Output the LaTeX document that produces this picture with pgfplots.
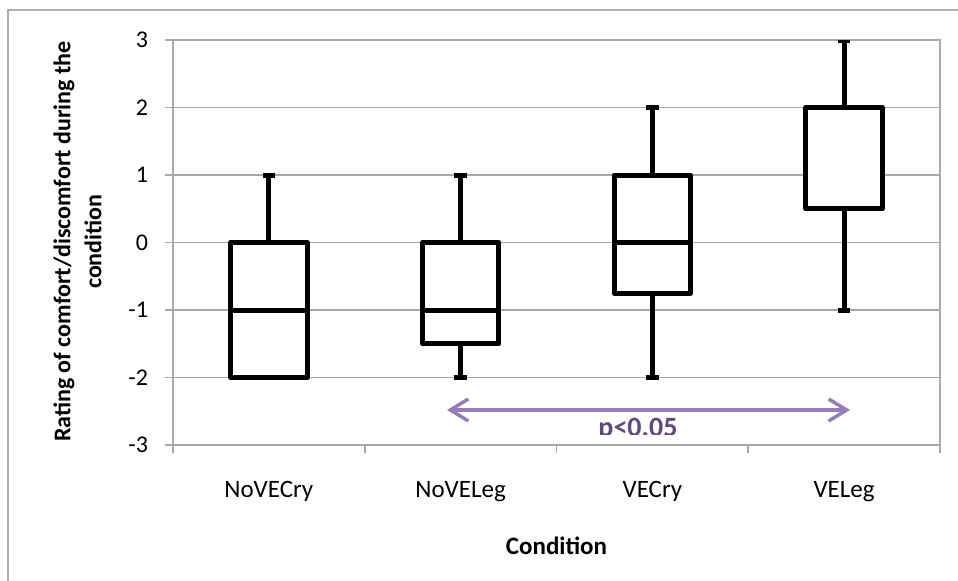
\documentclass[border=0pt]{standalone}
\usepackage{pgfplots}
\pgfplotsset{compat=1.18}
\usepgfplotslibrary{statistics}
\usetikzlibrary{arrows.meta}
\usepackage{fontspec}
\setmainfont{Carlito}
\definecolor{gridgray}{RGB}{168,168,168}
\definecolor{framegray}{RGB}{175,175,175}
\definecolor{arrowpurple}{RGB}{150,124,184}
\definecolor{textpurple}{RGB}{96,74,123}
\begin{document}
\begin{tikzpicture}
\useasboundingbox (-86.5pt,-67.5pt) rectangle (392.5pt,222.5pt);
\draw[framegray, line width=0.9pt] (-82.5pt,-70pt) -- (-82.5pt,217.5pt) -- (395pt,217.5pt);
\begin{axis}[
  at={(0pt,0pt)}, anchor=south west,
  scale only axis, width=383.5pt, height=202.5pt,
  xmin=-0.5, xmax=3.5, ymin=-3, ymax=3,
  xtick={0,1,2,3},
  xticklabels={NoVECry,NoVELeg,VECry,VELeg},
  minor xtick={-0.5,0.5,1.5,2.5,3.5},
  ytick={-3,-2,-1,0,1,2,3},
  ymajorgrids,
  grid style={gridgray, line width=0.9pt},
  axis line style={gridgray, line width=0.9pt},
  major x tick style={draw=none},
  minor x tick style={gridgray, line width=0.9pt},
  major y tick style={gridgray, line width=0.9pt},
  tick align=outside,
  tick pos=left,
  major tick length=4pt, minor tick length=4pt,
  yticklabel style={font=\fontsize{12}{14.4}\selectfont, xshift=-5pt},
  xticklabel style={font=\fontsize{12.5}{15}\selectfont, yshift=-10.5pt},
  /pgf/number format/assume math mode=true,
  xlabel={Condition},
  xlabel style={font=\fontsize{12.5}{15}\selectfont\bfseries, at={(axis description cs:0.5,-0.25)}, anchor=center},
  ylabel={Rating of comfort/discomfort during the\\condition},
  ylabel style={font=\fontsize{12}{15.5}\selectfont\bfseries, align=center, at={(axis description cs:-0.1245,0.502)}, anchor=center},
  boxplot/draw direction=y,
]
\addplot[boxplot prepared={draw position=0, lower whisker=-2, lower quartile=-2, median=-1, upper quartile=0, upper whisker=1, box extend=0.4, whisker extend=0.065}, black, line width=2.5pt, fill=white, line join=round] coordinates {};
\addplot[boxplot prepared={draw position=1, lower whisker=-2, lower quartile=-1.5, median=-1, upper quartile=0, upper whisker=1, box extend=0.4, whisker extend=0.065}, black, line width=2.5pt, fill=white, line join=round] coordinates {};
\addplot[boxplot prepared={draw position=2, lower whisker=-2, lower quartile=-0.75, median=0, upper quartile=1, upper whisker=2, box extend=0.4, whisker extend=0.065}, black, line width=2.5pt, fill=white, line join=round] coordinates {};
\addplot[boxplot prepared={draw position=3, lower whisker=-1, lower quartile=0.5, median=0.5, upper quartile=2, upper whisker=3, box extend=0.4, whisker extend=0.065}, black, line width=2.5pt, fill=white, line join=round] coordinates {};
\end{axis}
\draw[arrowpurple, line width=1.75pt, {Straight Barb[length=9pt,width=11pt]}-{Straight Barb[length=9pt,width=11pt]}] (137pt,17.5pt) -- (338.5pt,17.5pt);
\begin{scope}
\clip (0pt,5.5pt) rectangle (383pt,30pt);
\node[anchor=base, inner sep=0pt, text=textpurple, font=\fontsize{14}{16}\selectfont\bfseries] at (232.5pt,4.5pt) {p<0.05};
\end{scope}
\end{tikzpicture}
\end{document}
